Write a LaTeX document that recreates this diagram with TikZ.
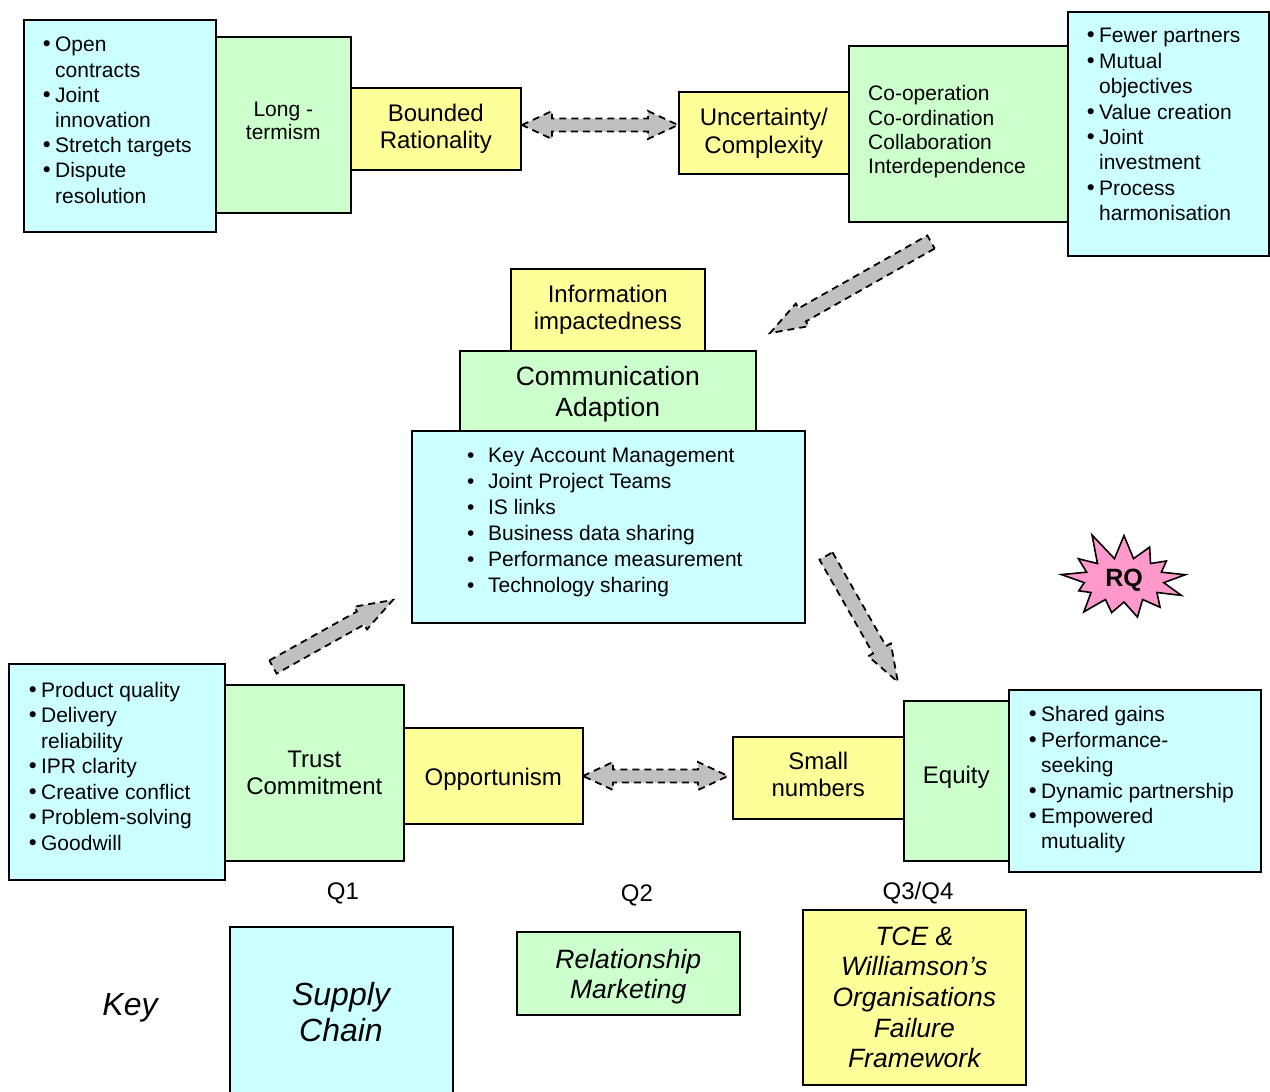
\documentclass[tikz,border=0pt]{standalone}
\usepackage{fontspec}
\setmainfont{Liberation Sans}
\newfontfamily\bulfont{DejaVu Sans}
\usetikzlibrary{shapes.symbols}
\definecolor{boxcyan}{HTML}{CCFFFF}
\definecolor{boxgreen}{HTML}{CCFFCC}
\definecolor{boxyellow}{HTML}{FFFF99}
\definecolor{rqpink}{HTML}{FF99CC}
\definecolor{arrowgray}{HTML}{C0C0C0}
\newcommand\fs[2]{\fontsize{#1}{#2}\selectfont}
% slightly heavier bullet on the normal advance width
\newcommand\bul{\makebox[0.35em][c]{\bulfont •}}
\tikzset{
  box/.style={draw, line width=1.6, inner sep=0, anchor=north west, align=center},
  cyanbox/.style={box, fill=boxcyan},
  greenbox/.style={box, fill=boxgreen},
  yellowbox/.style={box, fill=boxyellow},
  boxtext/.style={inner sep=0, align=center},
  listtext/.style={inner sep=0, anchor=north west, font=\fs{21}{25.3}},
  blockarrow/.style={draw, fill=arrowgray, line width=1.8, dash pattern=on 7 off 5, line join=miter},
  pics/sarrow/.style={code={
    \draw[blockarrow] (0,-7.5) -- ({#1-37},-7.5) -- ({#1-37},-13) -- (#1,0)
      -- ({#1-37},13) -- ({#1-37},7.5) -- (0,7.5) -- cycle;
  }},
  pics/darrow/.style={code={
    \draw[blockarrow] ({-#1/2},0) -- ({-#1/2+30},-14) -- ({-#1/2+30},-6.5)
      -- ({#1/2-30},-6.5) -- ({#1/2-30},-14) -- ({#1/2},0) -- ({#1/2-30},14)
      -- ({#1/2-30},6.5) -- ({-#1/2+30},6.5) -- ({-#1/2+30},14) -- cycle;
  }},
}
\begin{document}
\begin{tikzpicture}[x=1pt, y=-1pt]
\useasboundingbox (0,0) rectangle (1270,1092);

% ---- top row ----
\node[cyanbox, minimum width=192, minimum height=212] (tlc) at (23,19) {};
\node[greenbox, minimum width=135, minimum height=176] (lt) at (215,36) {};
\node[boxtext, font=\fs{21}{23}] (lt-text) at ([yshift=4]lt.center) {Long -\\termism};
\node[yellowbox, minimum width=170, minimum height=82, font=\fs{24}{27}] (br) at (350,87) {Bounded\\Rationality};
\node[yellowbox, minimum width=170, minimum height=82, font=\fs{24}{28}] (uc) at (678,91) {Uncertainty/\\Complexity};
\node[greenbox, minimum width=219, minimum height=176] (coop) at (848,45) {};
\node[boxtext, anchor=west, align=left, font=\fs{21}{24.3}] (coop-text) at ([xshift=20,yshift=2]coop.west)
  {Co-operation\\Co-ordination\\Collaboration\\Interdependence};
\node[cyanbox, minimum width=201, minimum height=244] (trc) at (1067,11) {};

\node[listtext, font=\fs{21}{25.2}] (tlc-list) at (43,34) {\begin{tabular}{@{}l@{\hspace{4.6pt}}l@{}}
  \bul & Open\\ & contracts\\ \bul & Joint\\ & innovation\\ \bul & Stretch targets\\ \bul & Dispute\\ & resolution
\end{tabular}};
\node[listtext, font=\fs{21}{25.4}] (trc-list) at (1087,25) {\begin{tabular}{@{}l@{\hspace{4.6pt}}l@{}}
  \bul & Fewer partners\\ \bul & Mutual\\ & objectives\\ \bul & Value creation\\ \bul & Joint\\ & investment\\ \bul & Process\\ & harmonisation
\end{tabular}};

% ---- centre ----
\node[yellowbox, minimum width=194, minimum height=82, font=\fs{24}{27}] (info) at (510,268) {Information\\impactedness};
\node[greenbox, minimum width=296, minimum height=80] (comm) at (459,350) {};
\node[boxtext, font=\fs{26.5}{31}] (comm-text) at ([yshift=-3]comm.center) {Communication\\Adaption};
\node[cyanbox, minimum width=393, minimum height=192] (mid) at (411,430) {};
\node[listtext, font=\fs{21}{26}] (mid-list) at (467,444) {\begin{tabular}{@{}l@{\hspace{13.6pt}}l@{}}
  \textbullet & Key Account Management\\ \textbullet & Joint Project Teams\\ \textbullet & IS links\\
  \textbullet & Business data sharing\\ \textbullet & Performance measurement\\ \textbullet & Technology sharing
\end{tabular}};

% ---- bottom row ----
\node[cyanbox, minimum width=216, minimum height=216] (blc) at (8,663) {};
\node[greenbox, minimum width=179, minimum height=176, font=\fs{24}{27}] (trust) at (224,684) {Trust\\Commitment};
\node[yellowbox, minimum width=179, minimum height=96] (opp) at (403,727) {};
\node[boxtext, font=\fs{24}{27}] (opp-text) at ([yshift=-3]opp.center) {Opportunism};
\node[yellowbox, minimum width=171, minimum height=82] (small) at (732,736) {};
\node[boxtext, font=\fs{24}{27}] (small-text) at ([yshift=3]small.center) {Small\\numbers};
\node[greenbox, minimum width=105, minimum height=160] (eq) at (903,700) {};
\node[boxtext, font=\fs{24}{27}] (eq-text) at ([yshift=4]eq.center) {Equity};
\node[cyanbox, minimum width=252, minimum height=182] (brc) at (1008,689) {};

\node[listtext, font=\fs{21}{25.5}] (blc-list) at (29,679) {\begin{tabular}{@{}l@{\hspace{4.6pt}}l@{}}
  \bul & Product quality\\ \bul & Delivery\\ & reliability\\ \bul & IPR clarity\\ \bul & Creative conflict\\
  \bul & Problem-solving\\ \bul & Goodwill
\end{tabular}};
\node[listtext, font=\fs{21}{25.4}] (brc-list) at (1029,704) {\begin{tabular}{@{}l@{\hspace{4.6pt}}l@{}}
  \bul & Shared gains\\ \bul & Performance-\\ & seeking\\ \bul & Dynamic partnership\\ \bul & Empowered\\ & mutuality
\end{tabular}};

% ---- block arrows ----
\pic (a-top) at (600,125) {darrow=156};
\pic (a-bot) at (655.5,776) {darrow=145};
\pic[rotate=209.5] (a-in) at (931,242) {sarrow=185};
\pic[rotate=29.2] (a-up) at (273,667) {sarrow=137.4};
\pic[rotate=-60.3] (a-down) at (826,556) {sarrow=145};

% ---- research question burst ----
\node[starburst, draw, fill=rqpink, line width=1.6pt, inner sep=0pt, minimum width=140pt, minimum height=104pt,
  starburst points=13, starburst point height=30pt, random starburst=11, shape border rotate=20,
  font=\fs{25}{28}\bfseries] (rq) at (1124,580) {RQ};

% ---- quadrant labels ----
\node[font=\fs{24}{27}] (q1) at (343,893) {Q1};
\node[font=\fs{24}{27}] (q2) at (637,895) {Q2};
\node[font=\fs{24}{27}] (q34) at (918,893) {Q3/Q4};

% ---- key ----
\node[font=\fs{32}{36}\itshape] (key) at (130,1008) {Key};
\node[cyanbox, minimum width=223, minimum height=185] (k-sc) at (229,926) {};
\node[boxtext, font=\fs{32}{36}\itshape] (k-sc-text) at (341,1012) {Supply\\Chain};
\node[greenbox, minimum width=223, minimum height=83] (k-rm) at (516,931) {};
\node[boxtext, font=\fs{26.5}{30}\itshape] (k-rm-text) at ([yshift=-3]k-rm.center) {Relationship\\Marketing};
\node[yellowbox, minimum width=223, minimum height=175, font=\fs{26.5}{30.7}\itshape] (k-tce) at (802,909)
  {TCE \&\\Williamson’s\\Organisations\\Failure\\Framework};
\end{tikzpicture}
\end{document}
